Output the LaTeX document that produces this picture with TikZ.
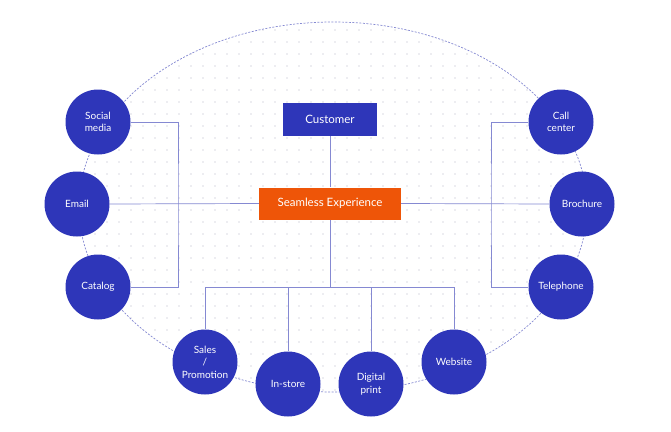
\documentclass[tikz,border=0pt]{standalone}
\usepackage{fontspec}
\setmainfont{Lato}
\definecolor{chblue}{HTML}{2E36B9}
\definecolor{chorange}{HTML}{EE5508}
\definecolor{chline}{HTML}{8589D2}
\definecolor{chdot}{HTML}{DCDCE4}
\tikzset{
  channel/.style={circle, fill=chblue, minimum size=65pt, inner sep=0pt, text=white, font=\fontsize{10}{12.5}\selectfont, align=center},
  boxnode/.style={rectangle, inner sep=0pt, text=white, font=\fontsize{11.5}{13}\selectfont},
  link/.style={draw=chline, line width=0.7pt},
  ring/.style={draw=chline, line width=0.7pt, dash pattern=on 2pt off 1.5pt}
}
\begin{document}
\begin{tikzpicture}[x=1pt,y=-1pt]
\useasboundingbox (0,0) rectangle (671,431);
\fill[white] (0,0) rectangle (671,431);
% dot grid inside ellipse
\begin{scope}
\clip (333,207) ellipse [x radius=254pt, y radius=185pt];
\foreach \gx in {11,23,...,671} {
  \foreach \gy in {6,18,...,431} {
    \fill[chdot] (\gx,\gy) circle [radius=0.8pt];
  }
}
\end{scope}
\draw[ring] (333,207) ellipse [x radius=254pt, y radius=185pt];

% central boxes
\node[boxnode, fill=chblue, minimum width=94pt, minimum height=33pt] (cust) at (330,119.5) {Customer};
\node[boxnode, fill=chorange, minimum width=142pt, minimum height=32pt] (seam) at (330,203.5) {Seamless Experience};

% left channels
\node[channel] (social) at (98,122) {Social\\media};
\node[channel] (email) at (77,204) {Email};
\node[channel] (catalog) at (98,287) {Catalog};
% right channels
\node[channel] (call) at (561,122) {Call\\center};
\node[channel] (broch) at (582,204) {Brochure};
\node[channel] (tel) at (561,287) {Telephone};
% bottom channels
\node[channel] (sales) at (205,362) {Sales\\/\\Promotion};
\node[channel] (store) at (288,384) {In-store};
\node[channel] (digital) at (371,384) {Digital\\print};
\node[channel] (web) at (454,362) {Website};

% junction coordinates
\coordinate (lb) at (178,204);
\coordinate (rb) at (491,204);
\coordinate (bus) at (330,287);

% connectors
\draw[link] (cust.south) -- (seam.north);
\draw[link] (seam.west) -- (email.east);
\draw[link] (seam.east) -- (broch.west);
\draw[link] (social.east) -| (lb) |- (catalog.east);
\draw[link] (call.west) -| (rb) |- (tel.west);
\draw[link] (seam.south) -- (bus);
\draw[link] (bus) -| (sales.north);
\draw[link] (bus) -| (web.north);
\draw[link] (store.north) |- (bus);
\draw[link] (digital.north) |- (bus);
\end{tikzpicture}
\end{document}
